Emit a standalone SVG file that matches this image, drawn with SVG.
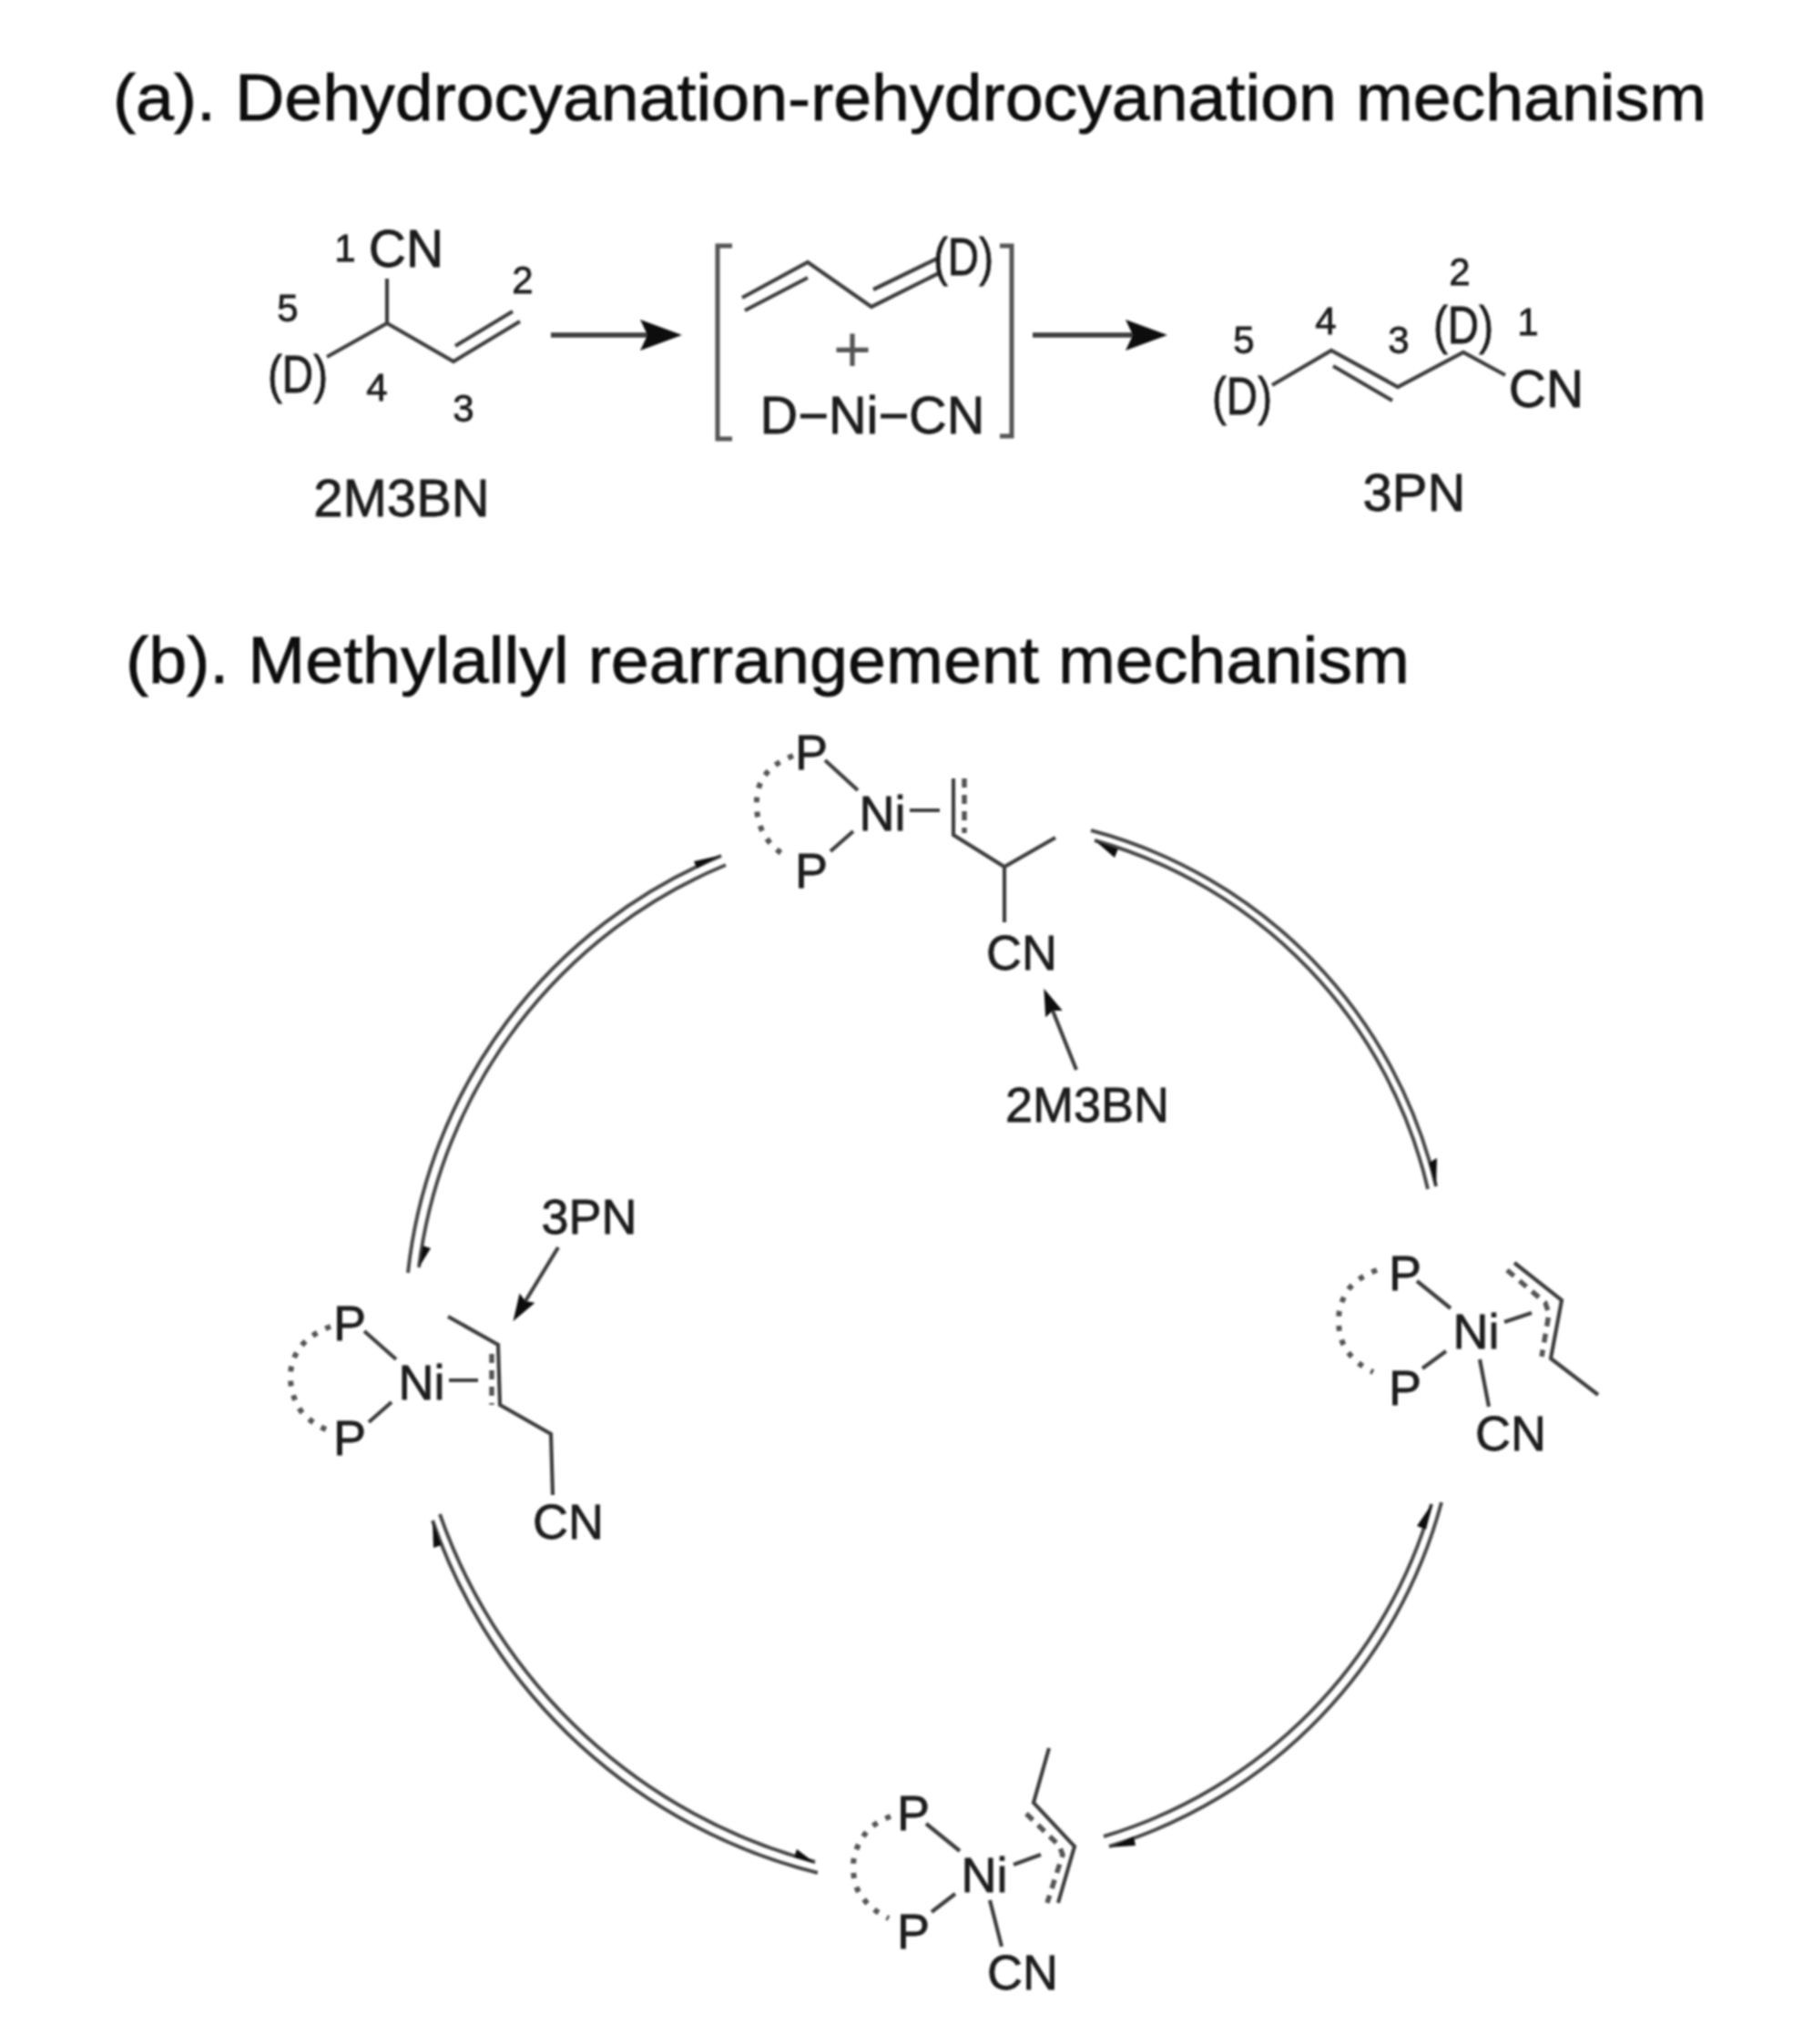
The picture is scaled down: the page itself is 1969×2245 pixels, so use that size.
<svg xmlns="http://www.w3.org/2000/svg" width="1969" height="2245" viewBox="0 0 1969 2245">
<style>
text{font-family:"Liberation Sans",Arial,sans-serif;fill:#1c1c1c;stroke:#1c1c1c;stroke-width:.8;text-anchor:middle}
.t{font-size:73px;text-anchor:start;fill:#111;stroke:#111}
.n{font-size:42px}
.l{font-size:57px}
.c{font-size:54px}
.b{fill:none;stroke:#3c3c3c;stroke-width:4.2;stroke-linecap:butt;stroke-linejoin:miter}
.d{fill:none;stroke:#555;stroke-width:6;stroke-dasharray:6 10}
.v{fill:none;stroke:#555;stroke-width:5.5;stroke-dasharray:10 8}
.a{fill:none;stroke:#4a4a4a;stroke-width:4}
.h{fill:#111}
.s{fill:none;stroke:#555;stroke-width:5}
</style>
<defs>
<filter id="soft" x="0" y="0" width="1969" height="2245" filterUnits="userSpaceOnUse"><feGaussianBlur stdDeviation="1.1"/></filter>
<marker id="big" markerUnits="userSpaceOnUse" markerWidth="48" markerHeight="36" refX="8" refY="17" orient="auto"><path d="M0 0L46 17L0 34L8 17Z" fill="#111"/></marker>
<marker id="small" markerUnits="userSpaceOnUse" markerWidth="32" markerHeight="22" refX="4" refY="10" orient="auto"><path d="M0 0L30 10L0 20L4 10Z" fill="#111"/></marker>
</defs>
<rect width="1969" height="2245" fill="#fff"/>
<g filter="url(#soft)">
<g id="title-a"><text class="t" x="124" y="132" textLength="1750" lengthAdjust="spacingAndGlyphs">(a). Dehydrocyanation-rehydrocyanation mechanism</text></g>
<g id="title-b"><text class="t" x="138" y="750" textLength="1410" lengthAdjust="spacingAndGlyphs">(b). Methylallyl rearrangement mechanism</text></g>

<g id="mol-2M3BN">
<path class="b" d="M425 306V355L359 392M425 355L498 397L571 353M500 380L563 342"/>
<text class="l" x="446" y="293">CN</text>
<text class="l" x="327" y="431" textLength="66" lengthAdjust="spacingAndGlyphs">(D)</text>
<text class="n" x="379" y="287">1</text>
<text class="n" x="574" y="322">2</text>
<text class="n" x="509" y="463">3</text>
<text class="n" x="414" y="440">4</text>
<text class="n" x="316" y="353">5</text>
<text x="441" y="567" style="font-size:58px">2M3BN</text>
</g>

<g id="intermediate">
<path class="s" d="M804 270H788V482H804M1098 270H1111V479H1098"/>
<path class="b" d="M815 327L887 288L957 337L1031 300M818 341L887 305M959 318L1031 283"/>
<text class="l" x="1058" y="302" textLength="66" lengthAdjust="spacingAndGlyphs">(D)</text>
<text x="936" y="408" style="font-size:72px;fill:#555;stroke:none">+</text>
<text class="l" x="958" y="476" textLength="247" lengthAdjust="spacingAndGlyphs">D−Ni−CN</text>
</g>

<g id="mol-3PN">
<path class="b" d="M1397 423L1462 385L1535 425L1607 387L1653 412M1464 402L1529 440"/>
<text class="l" x="1364" y="455" textLength="66" lengthAdjust="spacingAndGlyphs">(D)</text>
<text class="l" x="1607" y="377" textLength="66" lengthAdjust="spacingAndGlyphs">(D)</text>
<text class="l" x="1698" y="447">CN</text>
<text class="n" x="1678" y="368">1</text>
<text class="n" x="1603" y="313">2</text>
<text class="n" x="1536" y="388">3</text>
<text class="n" x="1456" y="367">4</text>
<text class="n" x="1366" y="388">5</text>
<text x="1553" y="561" style="font-size:58px">3PN</text>
</g>

<g id="complex-top">
<path class="d" d="M871 830Q851 838 842 849Q830 863 831 885Q831 905 842 921Q851 934 866 942"/>
<path class="b" d="M906 835L942 868M912 935L937 913M999 890H1032M1047 855V917L1103 952L1159 920M1103 952V1013"/>
<path class="v" d="M1059 855V915"/>
<text class="c" x="891" y="845">P</text>
<text class="c" x="891" y="975">P</text>
<text class="c" x="969" y="912">Ni</text>
<text class="c" x="1122" y="1065">CN</text>
</g>
<g id="label-2M3BN-top"><text class="c" x="1194" y="1232">2M3BN</text></g>

<g id="complex-left">
<path class="d" d="M363 1457Q342 1465 332 1477Q319 1492 319 1512Q319 1532 330 1549Q340 1562 358 1570"/>
<path class="b" d="M400 1462L435 1493M405 1562L430 1540M493 1516H525M492 1446L547 1477L549 1543L605 1575L607 1642"/>
<path class="v" d="M540 1487V1543"/>
<text class="c" x="384" y="1472">P</text>
<text class="c" x="384" y="1598">P</text>
<text class="c" x="463" y="1537">Ni</text>
<text class="c" x="624" y="1690">CN</text>
</g>
<g id="label-3PN-left"><text class="c" x="647" y="1355">3PN</text></g>

<g id="complex-right">
<path class="d" d="M1512 1395Q1491 1403 1481 1416Q1470 1432 1470 1450Q1470 1472 1481 1486Q1491 1499 1508 1507"/>
<path class="b" d="M1556 1407L1593 1437M1562 1503L1588 1484M1652 1452L1682 1442M1625 1493L1635 1545M1663 1387L1715 1428L1703 1492L1755 1532"/>
<path class="v" d="M1655 1395L1697 1431L1701 1443L1693 1490"/>
<text class="c" x="1543" y="1417">P</text>
<text class="c" x="1543" y="1543">P</text>
<text class="c" x="1621" y="1481">Ni</text>
<text class="c" x="1659" y="1593">CN</text>
</g>

<g id="complex-bottom">
<path class="d" d="M978 1995Q957 2003 948 2017Q937 2033 937 2050Q937 2072 947 2084Q957 2098 976 2107"/>
<path class="b" d="M1017 2003L1054 2033M1023 2100L1049 2080M1113 2048L1143 2037M1087 2087L1100 2138M1152 1920L1135 1980L1180 2028L1162 2090"/>
<path class="v" d="M1127 1992L1163 2027L1167 2037L1150 2090"/>
<text class="c" x="1003" y="2010">P</text>
<text class="c" x="1003" y="2140">P</text>
<text class="c" x="1081" y="2078">Ni</text>
<text class="c" x="1123" y="2185">CN</text>
</g>

<g id="connectors">
<line class="b" x1="605" y1="368" x2="711" y2="368" marker-end="url(#big)" style="stroke-width:5.5"/>
<line class="b" x1="1134" y1="368" x2="1244" y2="368" marker-end="url(#big)" style="stroke-width:5.5"/>
<line class="b" x1="1182" y1="1175" x2="1156" y2="1110" marker-end="url(#small)"/>
<line class="b" x1="613" y1="1370" x2="577" y2="1429" marker-end="url(#small)"/>

<path class="a" d="M1198 912A528 528 0 0 1 1577 1303"/>
<path class="a" d="M1202 923A520 520 0 0 1 1568 1306"/>
<polygon class="h" points="1202,923 1228,932 1224,942"/>
<polygon class="h" points="1577,1304 1578,1272 1569,1277"/>

<path class="a" d="M792 940A560 560 0 0 0 448 1398"/>
<path class="a" d="M797 950A552 552 0 0 0 460 1392"/>
<polygon class="h" points="793,939 762,946 765,954"/>
<polygon class="h" points="460,1392 464,1368 473,1371"/>

<path class="a" d="M475 1670A600 600 0 0 0 898 2057"/>
<path class="a" d="M483 1663A600 600 0 0 0 895 2045"/>
<polygon class="h" points="475,1670 476,1700 485,1697"/>
<polygon class="h" points="896,2047 872,2040 875,2031"/>

<path class="a" d="M1583 1650A541 541 0 0 1 1218 2028"/>
<path class="a" d="M1572 1652A533 533 0 0 1 1212 2017"/>
<polygon class="h" points="1573,1651 1556,1676 1566,1680"/>
<polygon class="h" points="1218,2029 1245,2017 1247,2027"/>
</g>
</g>
</svg>
